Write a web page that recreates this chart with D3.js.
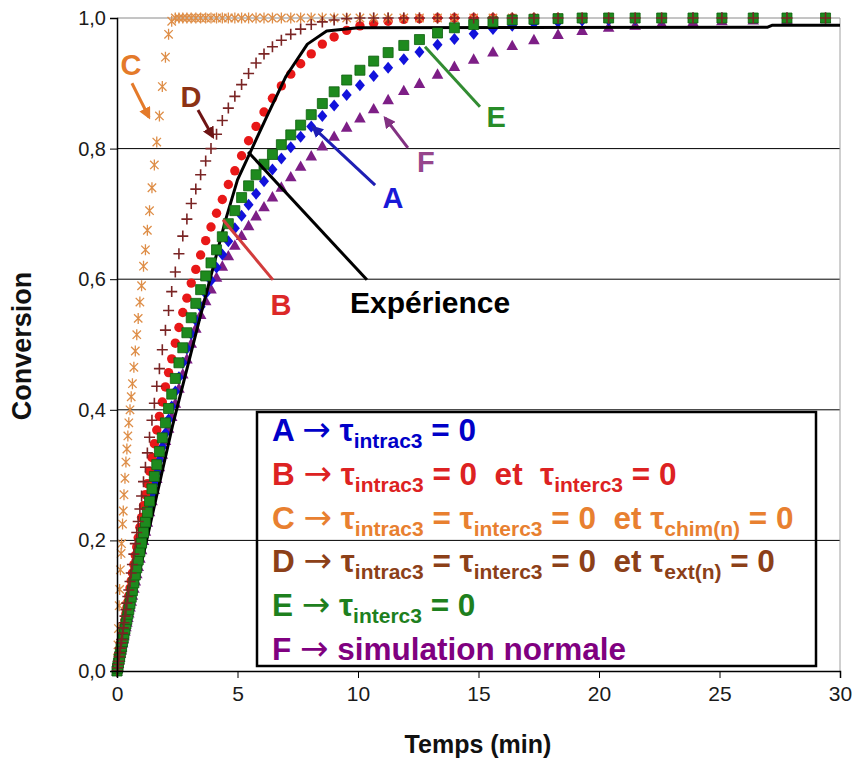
<!DOCTYPE html>
<html><head><meta charset="utf-8">
<script src="https://cdn.jsdelivr.net/npm/d3@7"></script>
<style>
body{margin:0;background:#fff}
svg{display:block}
text{font-family:"Liberation Sans",Arial,sans-serif}
</style>
</head><body>
<svg id="chart" width="856" height="767"></svg>
<script>
// ---------- DATA ----------
const times = [
 0, 0.02, 0.04, 0.06, 0.09, 0.11, 0.14, 0.17, 0.19, 0.23,
 0.26, 0.29, 0.33, 0.37, 0.41, 0.45, 0.49, 0.54, 0.59, 0.64,
 0.70, 0.76, 0.82, 0.88, 0.95, 1.02, 1.10, 1.18, 1.26, 1.35,
 1.45, 1.55, 1.65, 1.76, 1.88, 2.01, 2.14, 2.27, 2.42, 2.57,
 2.73, 2.90, 3.08, 3.27, 3.47, 3.68, 3.90, 4.13, 4.37, 4.62,
 4.89, 5.17, 5.46, 5.77, 6.10, 6.45, 6.82, 7.21, 7.62, 8.06,
 8.52, 9.01, 9.53, 10.08, 10.65, 11.25, 11.9, 12.55, 13.3, 14.0,
 14.8, 15.6, 16.4, 17.3, 18.3, 19.3, 20.4, 21.5, 22.6, 23.9,
 25.1, 26.4, 27.8, 29.4];

const serieA = [
 0, 0.004, 0.008, 0.012, 0.018, 0.022, 0.028, 0.033, 0.037, 0.044,
 0.05, 0.056, 0.063, 0.07, 0.077, 0.085, 0.092, 0.101, 0.11, 0.12,
 0.131, 0.143, 0.154, 0.165, 0.178, 0.19, 0.205, 0.22, 0.235, 0.251,
 0.269, 0.287, 0.304, 0.323, 0.343, 0.364, 0.385, 0.405, 0.428, 0.45,
 0.472, 0.494, 0.516, 0.537, 0.558, 0.578, 0.598, 0.618, 0.638, 0.658,
 0.678, 0.697, 0.714, 0.731, 0.75, 0.768, 0.785, 0.802, 0.818, 0.834,
 0.85, 0.866, 0.882, 0.897, 0.911, 0.924, 0.937, 0.948, 0.959, 0.968,
 0.976, 0.983, 0.988, 0.992, 0.994, 0.996, 0.997, 0.998, 0.999, 1,
 1, 1, 1, 1];

const serieB = [
 0, 0.004, 0.009, 0.014, 0.021, 0.026, 0.033, 0.04, 0.045, 0.055,
 0.062, 0.069, 0.078, 0.088, 0.097, 0.106, 0.115, 0.127, 0.138, 0.15,
 0.163, 0.177, 0.19, 0.204, 0.22, 0.235, 0.253, 0.27, 0.287, 0.306,
 0.327, 0.348, 0.369, 0.39, 0.412, 0.435, 0.457, 0.478, 0.502, 0.526,
 0.549, 0.571, 0.594, 0.615, 0.637, 0.659, 0.68, 0.701, 0.722, 0.745,
 0.766, 0.789, 0.812, 0.834, 0.856, 0.877, 0.896, 0.914, 0.93, 0.945,
 0.96, 0.971, 0.981, 0.988, 0.992, 0.995, 0.998, 0.999, 1, 1,
 1, 1, 1, 1, 1, 1, 1, 1, 1, 1,
 1, 1, 1, 1];

const serieC = [
 0, 0.02, 0.04, 0.065, 0.10, 0.125, 0.155, 0.18, 0.195, 0.225,
 0.245, 0.27, 0.295, 0.32, 0.34, 0.36, 0.38, 0.40, 0.42, 0.44,
 0.465, 0.49, 0.515, 0.54, 0.565, 0.59, 0.62, 0.645, 0.675, 0.705,
 0.74, 0.775, 0.81, 0.85, 0.895, 0.94, 0.975, 0.995, 1, 1,
 1, 1, 1, 1, 1, 1, 1, 1, 1, 1,
 1, 1, 1, 1, 1, 1, 1, 1, 1, 1,
 1, 1, 1, 1, 1, 1, 1, 1, 1, 1,
 1, 1, 1, 1, 1, 1, 1, 1, 1, 1,
 1, 1, 1, 1];

const serieD = [
 0, 0.005, 0.01, 0.015, 0.022, 0.028, 0.035, 0.043, 0.048, 0.058,
 0.066, 0.074, 0.084, 0.094, 0.104, 0.114, 0.124, 0.137, 0.15, 0.163,
 0.179, 0.195, 0.212, 0.229, 0.248, 0.268, 0.29, 0.312, 0.334, 0.358,
 0.384, 0.41, 0.436, 0.463, 0.492, 0.522, 0.552, 0.581, 0.611, 0.639,
 0.666, 0.692, 0.716, 0.738, 0.76, 0.781, 0.80, 0.822, 0.843, 0.862,
 0.88, 0.898, 0.915, 0.931, 0.945, 0.956, 0.966, 0.975, 0.983, 0.99,
 0.994, 0.997, 0.999, 1, 1, 1, 1, 1, 1, 1,
 1, 1, 1, 1, 1, 1, 1, 1, 1, 1,
 1, 1, 1, 1];

const serieE = [
 0, 0.004, 0.008, 0.012, 0.018, 0.022, 0.028, 0.034, 0.038, 0.045,
 0.051, 0.057, 0.064, 0.072, 0.079, 0.087, 0.094, 0.103, 0.113, 0.123,
 0.135, 0.147, 0.158, 0.17, 0.183, 0.196, 0.212, 0.228, 0.243, 0.26,
 0.279, 0.298, 0.316, 0.336, 0.357, 0.38, 0.402, 0.424, 0.448, 0.472,
 0.495, 0.518, 0.541, 0.563, 0.584, 0.605, 0.625, 0.645, 0.665, 0.685,
 0.705, 0.725, 0.743, 0.76, 0.776, 0.791, 0.806, 0.821, 0.836, 0.852,
 0.869, 0.887, 0.905, 0.92, 0.934, 0.947, 0.958, 0.967, 0.977, 0.985,
 0.99, 0.994, 0.997, 0.998, 0.999, 1, 1, 1, 1, 1,
 1, 1, 1, 1];

const serieF = [
 0, 0.004, 0.008, 0.012, 0.017, 0.021, 0.027, 0.032, 0.036, 0.043,
 0.049, 0.054, 0.061, 0.068, 0.075, 0.082, 0.089, 0.098, 0.107, 0.116,
 0.127, 0.138, 0.149, 0.16, 0.173, 0.186, 0.2, 0.214, 0.228, 0.244,
 0.261, 0.278, 0.295, 0.313, 0.332, 0.353, 0.372, 0.39, 0.41, 0.433,
 0.455, 0.478, 0.502, 0.525, 0.546, 0.567, 0.585, 0.603, 0.62, 0.636,
 0.652, 0.667, 0.682, 0.697, 0.711, 0.726, 0.741, 0.757, 0.773, 0.789,
 0.804, 0.819, 0.833, 0.847, 0.861, 0.875, 0.889, 0.9, 0.914, 0.926,
 0.937, 0.948, 0.958, 0.967, 0.975, 0.981, 0.986, 0.989, 0.992, 0.994,
 0.996, 0.997, 0.998, 0.999];

const expTimes  = [0, 1.35, 2.3, 3.4, 4.5, 5.0, 5.6, 6.2, 7.0, 7.9, 8.7, 10, 27, 27.2, 30];
const expValues = [0, 0.22, 0.375, 0.535, 0.69, 0.752, 0.80, 0.848, 0.91, 0.96, 0.98, 0.985, 0.986, 0.989, 0.989];

const xTicks = [0, 5, 10, 15, 20, 25, 30];
const xTickLabels = ["0", "5", "10", "15", "20", "25", "30"];
const yTicks = [0, 0.2, 0.4, 0.6, 0.8, 1.0];
const yTickLabels = ["0,0", "0,2", "0,4", "0,6", "0,8", "1,0"];
const xTitle = "Temps (min)";
const yTitle = "Conversion";

// part types: 0 = normal, 1 = subscript, 2 = arrow glyph
const legendRows = [
  {color:"#0000C8", parts:[["A ",0],["→",2],[" τ",0],["intrac3",1],[" = 0",0]]},
  {color:"#DD2222", parts:[["B ",0],["→",2],[" τ",0],["intrac3",1],[" = 0  et  τ",0],["interc3",1],[" = 0",0]]},
  {color:"#E88030", parts:[["C ",0],["→",2],[" τ",0],["intrac3",1],[" = τ",0],["interc3",1],[" = 0  et τ",0],["chim(n)",1],[" = 0",0]]},
  {color:"#8C4018", parts:[["D ",0],["→",2],[" τ",0],["intrac3",1],[" = τ",0],["interc3",1],[" = 0  et τ",0],["ext(n)",1],[" = 0",0]]},
  {color:"#1E801E", parts:[["E ",0],["→",2],[" τ",0],["interc3",1],[" = 0",0]]},
  {color:"#800080", parts:[["F ",0],["→",2],[" simulation normale",0]]}
];

// annotations in data units: label position, line start, line end
const annotations = [
  {text:"C", color:"#E47A2A", lc:"#E47A2A", tx:0.58, ty:0.913, x1:0.62, y1:0.900, x2:1.33, y2:0.848, arrow:true},
  {text:"D", color:"#8C3214", lc:"#6E1414", tx:3.07, ty:0.864, x1:3.36, y1:0.859, x2:3.98, y2:0.818, arrow:true},
  {text:"A", color:"#1919D7", lc:"#1E1EB4", tx:11.45, ty:0.709, x1:10.71, y1:0.744, x2:8.13, y2:0.833, arrow:true},
  {text:"F", color:"#96468C", lc:"#823282", tx:12.82, ty:0.764, x1:12.07, y1:0.801, x2:11.12, y2:0.847, arrow:true},
  {text:"E", color:"#288C28", lc:"#328C32", tx:15.73, ty:0.833, x1:15.06, y1:0.864, x2:12.78, y2:0.956, arrow:false},
  {text:"B", color:"#DC2828", lc:"#D23C3C", tx:6.8, ty:0.545, x1:6.47, y1:0.599, x2:4.40, y2:0.691, arrow:false}
];
const expLabel = {text:"Expérience", tx:9.67, ty:0.548, x1:10.37, y1:0.599, x2:5.44, y2:0.795};

// ---------- DRAWING ----------
const svg = d3.select("#chart");
const x = d3.scaleLinear().domain([0, 30]).range([117, 840]);
const y = d3.scaleLinear().domain([0, 1]).range([671, 18]);

const defs = svg.append("defs");
annotations.filter(a => a.arrow).forEach((a, i) => {
  defs.append("marker").attr("id", "arr" + i)
    .attr("markerUnits", "userSpaceOnUse").attr("markerWidth", 12).attr("markerHeight", 12)
    .attr("viewBox", "0 0 10 10").attr("refX", 8).attr("refY", 5).attr("orient", "auto")
    .append("path").attr("d", "M0,0L10,5L0,10Z").attr("fill", a.lc);
  a.mid = "arr" + i;
});

// gridlines
svg.append("g").selectAll("line").data(yTicks.filter(v => v > 0 && v < 1)).join("line")
  .attr("x1", x(0)).attr("x2", x(30)).attr("y1", d => y(d)).attr("y2", d => y(d))
  .attr("stroke", "#000").attr("stroke-width", 1);
svg.append("line").attr("x1", x(0)).attr("x2", x(30)).attr("y1", y(1)).attr("y2", y(1))
  .attr("stroke", "#8a8a8a").attr("stroke-width", 1);
svg.append("line").attr("x1", x(30)).attr("x2", x(30)).attr("y1", y(1)).attr("y2", y(0))
  .attr("stroke", "#a0a0a0").attr("stroke-width", 1);

const shapes = {
  square: "M-5,-5H5V5H-5Z",
  diamond: "M0,-6L5,0L0,6L-5,0Z",
  triangle: "M0,-5.8L5.8,4.6H-5.8Z",
  plus: "M-5.5,0H5.5M0,-5.5V5.5",
  star: "M-4.2,-4.2L4.2,4.2M-4.2,4.2L4.2,-4.2M0,-5.5V5.5"
};
function drawSeries(vals, kind, opts) {
  const g = svg.append("g");
  const pts = times.map((t, i) => [t, vals[i]]);
  if (kind === "circle") {
    g.selectAll("circle").data(pts).join("circle")
      .attr("cx", d => x(d[0])).attr("cy", d => y(d[1])).attr("r", 4.7)
      .attr("fill", opts.fill);
  } else {
    g.selectAll("path").data(pts).join("path")
      .attr("transform", d => `translate(${x(d[0])},${y(d[1])})`)
      .attr("d", shapes[kind])
      .attr("fill", opts.fill || "none")
      .attr("stroke", opts.stroke || "none")
      .attr("stroke-width", opts.sw || 0);
  }
}
drawSeries(serieF, "triangle", {fill:"#7D1E86"});
drawSeries(serieA, "diamond", {fill:"#1212DC"});
drawSeries(serieB, "circle", {fill:"#E81818"});
drawSeries(serieC, "star", {stroke:"#DE8E48", sw:1.3});

svg.append("path").datum(expTimes.map((t, i) => [t, expValues[i]]))
  .attr("d", d3.line().x(d => x(d[0])).y(d => y(d[1])))
  .attr("fill", "none").attr("stroke", "#000").attr("stroke-width", 3).attr("stroke-linejoin", "round");

drawSeries(serieE, "square", {fill:"#1E8A1E", stroke:"#0E600E", sw:0.8});
drawSeries(serieD, "plus", {stroke:"#7A2424", sw:1.6});

// axes
const yAxis = d3.axisLeft(y).tickValues(yTicks).tickFormat((d, i) => yTickLabels[i]).tickSize(7).tickPadding(4);
const gy = svg.append("g").attr("transform", `translate(${x(0)},0)`).call(yAxis);
gy.select(".domain").attr("stroke", "#000").attr("stroke-width", 1.5);
gy.selectAll(".tick line").attr("stroke", "#000");
gy.selectAll(".tick text").attr("font-size", 20).attr("fill", "#1a1a1a")
  .attr("font-family", "'Liberation Sans',Arial,sans-serif");

const xAxis = d3.axisBottom(x).tickValues(xTicks).tickFormat((d, i) => xTickLabels[i]).tickSize(7).tickPadding(8);
const gx = svg.append("g").attr("transform", `translate(0,${y(0)})`).call(xAxis);
gx.select(".domain").attr("stroke", "#000").attr("stroke-width", 1.5);
gx.selectAll(".tick line").attr("stroke", "#000");
gx.selectAll(".tick text").attr("font-size", 21).attr("fill", "#1a1a1a")
  .attr("font-family", "'Liberation Sans',Arial,sans-serif");

svg.append("text").attr("x", 478).attr("y", 753).attr("text-anchor", "middle")
  .attr("font-size", 25).attr("font-weight", "bold").attr("fill", "#111").text(xTitle);
svg.append("text").attr("transform", "translate(31,346) rotate(-90)").attr("text-anchor", "middle")
  .attr("font-size", 27).attr("font-weight", "bold").attr("fill", "#111").text(yTitle);

// annotations
annotations.forEach(a => {
  const l = svg.append("line").attr("x1", x(a.x1)).attr("y1", y(a.y1)).attr("x2", x(a.x2)).attr("y2", y(a.y2))
    .attr("stroke", a.lc).attr("stroke-width", 3);
  if (a.arrow) l.attr("marker-end", `url(#${a.mid})`);
  svg.append("text").attr("x", x(a.tx)).attr("y", y(a.ty)).attr("text-anchor", "middle")
    .attr("font-size", 29).attr("font-weight", "bold").attr("fill", a.color).text(a.text);
});
svg.append("line").attr("x1", x(expLabel.x1)).attr("y1", y(expLabel.y1)).attr("x2", x(expLabel.x2)).attr("y2", y(expLabel.y2))
  .attr("stroke", "#000").attr("stroke-width", 3);
svg.append("text").attr("x", x(expLabel.tx)).attr("y", y(expLabel.ty))
  .attr("font-size", 30).attr("font-weight", "bold").attr("fill", "#000").text(expLabel.text);

// legend box
svg.append("rect").attr("x", 257).attr("y", 412).attr("width", 559).attr("height", 254)
  .attr("fill", "none").attr("stroke", "#000").attr("stroke-width", 2.5);
legendRows.forEach((row, r) => {
  const t = svg.append("text").attr("x", 272).attr("y", 441 + r * 43.8)
    .attr("font-weight", "bold").attr("fill", row.color).style("white-space", "pre");
  let shifted = false;
  row.parts.forEach(([s, kind]) => {
    const ts = t.append("tspan").text(s);
    if (kind === 1) ts.attr("font-size", 21);
    else if (kind === 2) ts.attr("font-size", 34).attr("font-family", "'DejaVu Sans',sans-serif").attr("font-weight", "normal");
    else ts.attr("font-size", 31.5);
    if (kind === 1 && !shifted) { ts.attr("dy", 7); shifted = true; }
    else if (kind !== 1 && shifted) { ts.attr("dy", -7); shifted = false; }
  });
});
</script>
</body></html>
